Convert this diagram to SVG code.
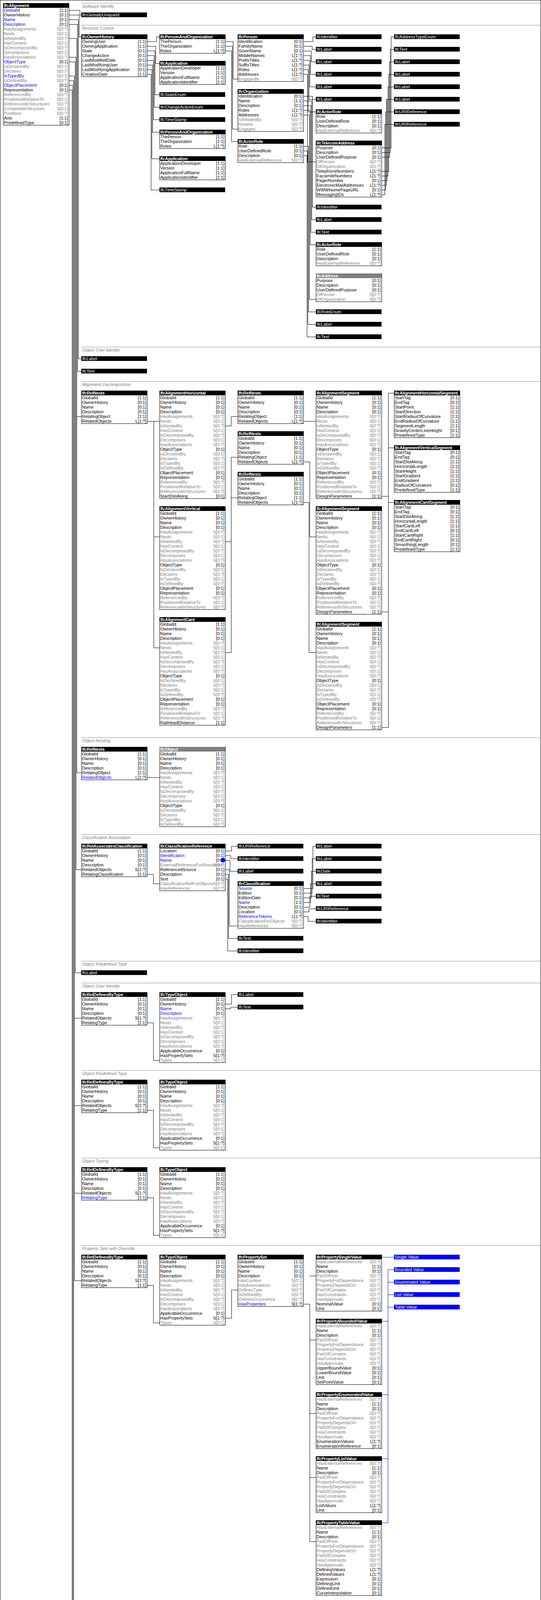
<svg xmlns="http://www.w3.org/2000/svg" width="1384" height="7496" viewBox="0 0 1384 7496">
<style>
text{font-family:"Liberation Sans",Arial,sans-serif;font-size:11px;fill:#000}
.c{text-anchor:end}
.g{fill:#808080}
.b{fill:#0000ff}
.h{fill:#fff;font-weight:bold;letter-spacing:-0.2px}
.w{fill:#fff}
.st{fill:#808080;font-style:italic}
.bx{fill:#fff;stroke:#000;stroke-width:1}
.hd{fill:#000}
.ha{fill:#808080}
.tb{fill:#000}
.vb{fill:#0000ff}
.sl{stroke:#909090;stroke-width:1}
.fr{fill:none;stroke:#000;stroke-width:1}
#conn path{fill:none;stroke:#000;stroke-width:1}
#conn path.bl{stroke:#0000ff}
rect,line,path{shape-rendering:crispEdges}
</style>
<defs>
<clipPath id="cp"><rect width="167" height="12"/></clipPath>
<g id="rRoot"><text><tspan x="2" y="22">GlobalId</tspan><tspan x="2" y="34">OwnerHistory</tspan><tspan x="2" y="46">Name</tspan><tspan x="2" y="58">Description</tspan></text><text class="c"><tspan x="166" y="22">[1:1]</tspan><tspan x="166" y="34">[0:1]</tspan><tspan x="166" y="46">[0:1]</tspan><tspan x="166" y="58">[0:1]</tspan></text></g>
<g id="rRootN"><text><tspan x="2" y="22">GlobalId</tspan><tspan x="2" y="34">OwnerHistory</tspan><tspan class="b" x="2" y="46">Name</tspan><tspan x="2" y="58">Description</tspan></text><text class="c"><tspan x="166" y="22">[1:1]</tspan><tspan x="166" y="34">[0:1]</tspan><tspan x="166" y="46">[0:1]</tspan><tspan x="166" y="58">[0:1]</tspan></text></g>
<g id="rA1"><text class="g"><tspan x="2" y="22">HasAssignments</tspan><tspan x="2" y="34">Nests</tspan><tspan x="2" y="46">IsNestedBy</tspan><tspan x="2" y="58">HasContext</tspan><tspan x="2" y="70">IsDecomposedBy</tspan><tspan x="2" y="82">Decomposes</tspan><tspan x="2" y="94">HasAssociations</tspan></text><text class="g c"><tspan x="166" y="22">S[0:?]</tspan><tspan x="166" y="34">S[0:1]</tspan><tspan x="166" y="46">S[0:?]</tspan><tspan x="166" y="58">S[0:1]</tspan><tspan x="166" y="70">S[0:?]</tspan><tspan x="166" y="82">S[0:1]</tspan><tspan x="166" y="94">S[0:?]</tspan></text></g>
<g id="rA2"><text><tspan x="2" y="22">ObjectType</tspan><tspan class="g" x="2" y="34">IsDeclaredBy</tspan><tspan class="g" x="2" y="46">Declares</tspan><tspan class="g" x="2" y="58">IsTypedBy</tspan><tspan class="g" x="2" y="70">IsDefinedBy</tspan></text><text class="c"><tspan x="166" y="22">[0:1]</tspan><tspan class="g" x="166" y="34">S[0:1]</tspan><tspan class="g" x="166" y="46">S[0:?]</tspan><tspan class="g" x="166" y="58">S[0:1]</tspan><tspan class="g" x="166" y="70">S[0:?]</tspan></text></g>
<g id="rB"><text><tspan x="2" y="22">ObjectPlacement</tspan><tspan x="2" y="34">Representation</tspan><tspan class="g" x="2" y="46">ReferencedBy</tspan><tspan class="g" x="2" y="58">PositionedRelativeTo</tspan><tspan class="g" x="2" y="70">ReferencedInStructures</tspan></text><text class="c"><tspan x="166" y="22">[0:1]</tspan><tspan x="166" y="34">[0:1]</tspan><tspan class="g" x="166" y="46">S[0:?]</tspan><tspan class="g" x="166" y="58">S[0:1]</tspan><tspan class="g" x="166" y="70">S[0:?]</tspan></text></g>
<g id="rProp"><text><tspan class="g" x="2" y="22">HasExternalReferences</tspan><tspan x="2" y="34">Name</tspan><tspan x="2" y="46">Description</tspan><tspan class="g" x="2" y="58">PartOfPset</tspan><tspan class="g" x="2" y="70">PropertyForDependance</tspan><tspan class="g" x="2" y="82">PropertyDependsOn</tspan><tspan class="g" x="2" y="94">PartOfComplex</tspan><tspan class="g" x="2" y="106">HasConstraints</tspan><tspan class="g" x="2" y="118">HasApprovals</tspan></text><text class="c"><tspan class="g" x="166" y="22">S[0:?]</tspan><tspan x="166" y="34">[1:1]</tspan><tspan x="166" y="46">[0:1]</tspan><tspan class="g" x="166" y="58">S[0:?]</tspan><tspan class="g" x="166" y="70">S[0:?]</tspan><tspan class="g" x="166" y="82">S[0:?]</tspan><tspan class="g" x="166" y="94">S[0:?]</tspan><tspan class="g" x="166" y="106">S[0:?]</tspan><tspan class="g" x="166" y="118">S[0:?]</tspan></text></g>
<g id="rRI"><text class="g"><tspan x="2" y="22">LayerAssignment</tspan><tspan x="2" y="34">StyledByItem</tspan></text><text class="g c"><tspan x="166" y="22">S[0:1]</tspan><tspan x="166" y="34">S[0:1]</tspan></text></g>
<g id="bPAO"><rect class="bx" width="168" height="48"/><rect class="hd" width="168" height="12"/><text class="h" x="2" y="10">IfcPersonAndOrganization</text><text><tspan x="2" y="22">ThePerson</tspan><tspan x="2" y="34">TheOrganization</tspan><tspan x="2" y="46">Roles</tspan></text><text class="c"><tspan x="166" y="22">[1:1]</tspan><tspan x="166" y="34">[1:1]</tspan><tspan x="166" y="46">L[1:?]</tspan></text></g>
<g id="bApp"><rect class="bx" width="168" height="60"/><rect class="hd" width="168" height="12"/><text class="h" x="2" y="10">IfcApplication</text><text><tspan x="2" y="22">ApplicationDeveloper</tspan><tspan x="2" y="34">Version</tspan><tspan x="2" y="46">ApplicationFullName</tspan><tspan x="2" y="58">ApplicationIdentifier</tspan></text><text class="c"><tspan x="166" y="22">[1:1]</tspan><tspan x="166" y="34">[1:1]</tspan><tspan x="166" y="46">[1:1]</tspan><tspan x="166" y="58">[1:1]</tspan></text></g>
<g id="bAR"><rect class="bx" width="168" height="60"/><rect class="hd" width="168" height="12"/><text class="h" x="2" y="10">IfcActorRole</text><text><tspan x="2" y="22">Role</tspan><tspan x="2" y="34">UserDefinedRole</tspan><tspan x="2" y="46">Description</tspan><tspan class="g" x="2" y="58">HasExternalReference</tspan></text><text class="c"><tspan x="166" y="22">[1:1]</tspan><tspan x="166" y="34">[0:1]</tspan><tspan x="166" y="46">[0:1]</tspan><tspan class="g" x="166" y="58">S[0:?]</tspan></text></g>
<g id="bRelNests"><rect class="bx" width="168" height="84"/><rect class="hd" width="168" height="12"/><text class="h" x="2" y="10">IfcRelNests</text><use href="#rRoot"/><text><tspan x="2" y="70">RelatingObject</tspan><tspan x="2" y="82">RelatedObjects</tspan></text><text class="c"><tspan x="166" y="70">[1:1]</tspan><tspan x="166" y="82">L[1:?]</tspan></text></g>
<g id="bSeg"><rect class="bx" width="168" height="276"/><rect class="hd" width="168" height="12"/><text class="h" x="2" y="10">IfcAlignmentSegment</text><use href="#rRoot"/><use href="#rA1" y="48"/><use href="#rA2" y="132"/><use href="#rB" y="192"/><text x="2" y="274">DesignParameters</text><text class="c" x="166" y="274">[1:1]</text></g>
<g id="bRDT"><rect class="bx" width="168" height="84"/><rect class="hd" width="168" height="12"/><text class="h" x="2" y="10">IfcRelDefinesByType</text><use href="#rRoot"/><text><tspan x="2" y="70">RelatedObjects</tspan><tspan x="2" y="82">RelatingType</tspan></text><text class="c"><tspan x="166" y="70">S[1:?]</tspan><tspan x="166" y="82">[1:1]</tspan></text></g>
<g id="rTOtail"><text><tspan x="2" y="154">ApplicableOccurrence</tspan><tspan x="2" y="166">HasPropertySets</tspan><tspan class="g" x="2" y="178">Types</tspan></text><text class="c"><tspan x="166" y="154">[0:1]</tspan><tspan x="166" y="166">S[1:?]</tspan><tspan class="g" x="166" y="178">S[0:1]</tspan></text></g>
<g id="bTO"><rect class="bx" width="168" height="180"/><rect class="hd" width="168" height="12"/><text class="h" x="2" y="10">IfcTypeObject</text><use href="#rRoot"/><use href="#rA1" y="48"/><use href="#rTOtail"/></g>
<g id="bPSet"><rect class="bx" width="168" height="132"/><rect class="hd" width="168" height="12"/><text class="h" x="2" y="10">IfcPropertySet</text><use href="#rRoot"/><text><tspan class="g" x="2" y="70">HasContext</tspan><tspan class="g" x="2" y="82">HasAssociations</tspan><tspan class="g" x="2" y="94">DefinesType</tspan><tspan class="g" x="2" y="106">IsDefinedBy</tspan><tspan class="g" x="2" y="118">DefinesOccurrence</tspan><tspan class="b" x="2" y="130">HasProperties</tspan></text><text class="c"><tspan class="g" x="166" y="70">S[0:1]</tspan><tspan class="g" x="166" y="82">S[0:?]</tspan><tspan class="g" x="166" y="94">S[0:?]</tspan><tspan class="g" x="166" y="106">S[0:?]</tspan><tspan class="g" x="166" y="118">S[0:?]</tspan><tspan x="166" y="130">S[1:?]</tspan></text></g>
<g id="bPSV"><rect class="bx" width="168" height="144"/><rect class="hd" width="168" height="12"/><text class="h" x="2" y="10">IfcPropertySingleValue</text><use href="#rProp"/><text><tspan x="2" y="130">NominalValue</tspan><tspan x="2" y="142">Unit</tspan></text><text class="c"><tspan x="166" y="130">[0:1]</tspan><tspan x="166" y="142">[0:1]</tspan></text></g>
<g id="bPBV"><rect class="bx" width="168" height="168"/><rect class="hd" width="168" height="12"/><text class="h" x="2" y="10">IfcPropertyBoundedValue</text><use href="#rProp"/><text><tspan x="2" y="130">UpperBoundValue</tspan><tspan x="2" y="142">LowerBoundValue</tspan><tspan x="2" y="154">Unit</tspan><tspan x="2" y="166">SetPointValue</tspan></text><text class="c"><tspan x="166" y="130">[0:1]</tspan><tspan x="166" y="142">[0:1]</tspan><tspan x="166" y="154">[0:1]</tspan><tspan x="166" y="166">[0:1]</tspan></text></g>
<g id="bPEV"><rect class="bx" width="168" height="144"/><rect class="hd" width="168" height="12"/><text class="h" x="2" y="10">IfcPropertyEnumeratedValue</text><use href="#rProp"/><text><tspan x="2" y="130">EnumerationValues</tspan><tspan x="2" y="142">EnumerationReference</tspan></text><text class="c"><tspan x="166" y="130">L[1:?]</tspan><tspan x="166" y="142">[0:1]</tspan></text></g>
<g id="bPLV"><rect class="bx" width="168" height="144"/><rect class="hd" width="168" height="12"/><text class="h" x="2" y="10">IfcPropertyListValue</text><use href="#rProp"/><text><tspan x="2" y="130">ListValues</tspan><tspan x="2" y="142">Unit</tspan></text><text class="c"><tspan x="166" y="130">L[1:?]</tspan><tspan x="166" y="142">[0:1]</tspan></text></g>
<g id="bPTV"><rect class="bx" width="168" height="192"/><rect class="hd" width="168" height="12"/><text class="h" x="2" y="10">IfcPropertyTableValue</text><use href="#rProp"/><text><tspan x="2" y="130">DefiningValues</tspan><tspan x="2" y="142">DefinedValues</tspan><tspan x="2" y="154">Expression</tspan><tspan x="2" y="166">DefiningUnit</tspan><tspan x="2" y="178">DefinedUnit</tspan><tspan x="2" y="190">CurveInterpolation</tspan></text><text class="c"><tspan x="166" y="130">L[1:?]</tspan><tspan x="166" y="142">L[1:?]</tspan><tspan x="166" y="154">[0:1]</tspan><tspan x="166" y="166">[0:1]</tspan><tspan x="166" y="178">[0:1]</tspan><tspan x="166" y="190">[0:1]</tspan></text></g>
<g id="bRDP"><rect class="bx" width="168" height="84"/><rect class="hd" width="168" height="12"/><text class="h" x="2" y="10">IfcRelDefinesByProperties</text><use href="#rRoot"/><text><tspan x="2" y="70">RelatedObjects</tspan><tspan x="2" y="82">RelatingPropertyDefinition</tspan></text><text class="c"><tspan x="166" y="70">S[1:?]</tspan><tspan x="166" y="82">[1:1]</tspan></text></g>
<g id="bPDS"><rect class="bx" width="168" height="72"/><rect class="hd" width="168" height="12"/><text class="h" x="2" y="10">IfcProductDefinitionShape</text><text><tspan x="2" y="22">Name</tspan><tspan x="2" y="34">Description</tspan><tspan x="2" y="46">Representations</tspan><tspan class="g" x="2" y="58">ShapeOfProduct</tspan><tspan class="g" x="2" y="70">HasShapeAspects</tspan></text><text class="c"><tspan x="166" y="22">[0:1]</tspan><tspan x="166" y="34">[0:1]</tspan><tspan x="166" y="46">L[1:?]</tspan><tspan class="g" x="166" y="58">S[1:?]</tspan><tspan class="g" x="166" y="70">S[0:?]</tspan></text></g>
<g id="bSR"><rect class="bx" width="168" height="108"/><rect class="hd" width="168" height="12"/><text class="h" x="2" y="10">IfcShapeRepresentation</text><text><tspan x="2" y="22">ContextOfItems</tspan><tspan class="b" x="2" y="34">RepresentationIdentifier</tspan><tspan class="b" x="2" y="46">RepresentationType</tspan><tspan x="2" y="58">Items</tspan><tspan class="g" x="2" y="70">RepresentationMap</tspan><tspan class="g" x="2" y="82">LayerAssignments</tspan><tspan class="g" x="2" y="94">OfProductRepresentation</tspan><tspan class="g" x="2" y="106">OfShapeAspect</tspan></text><text class="c"><tspan x="166" y="22">[1:1]</tspan><tspan x="166" y="34">[0:1]</tspan><tspan x="166" y="46">[0:1]</tspan><tspan x="166" y="58">S[1:?]</tspan><tspan class="g" x="166" y="70">S[0:1]</tspan><tspan class="g" x="166" y="82">S[0:?]</tspan><tspan class="g" x="166" y="94">S[0:?]</tspan><tspan class="g" x="166" y="106">S[0:1]</tspan></text></g>
<g id="bGRC"><rect class="bx" width="168" height="120"/><rect class="hd" width="168" height="12"/><text class="h" x="2" y="10" clip-path="url(#cp)">IfcGeometricRepresentationContext</text><text><tspan x="2" y="22">ContextIdentifier</tspan><tspan x="2" y="34">ContextType</tspan><tspan class="g" x="2" y="46">RepresentationsInContext</tspan><tspan x="2" y="58">CoordinateSpaceDimension</tspan><tspan x="2" y="70">Precision</tspan><tspan x="2" y="82">WorldCoordinateSystem</tspan><tspan x="2" y="94">TrueNorth</tspan><tspan class="g" x="2" y="106">HasSubContexts</tspan><tspan class="g" x="2" y="118">HasCoordinateOperation</tspan></text><text class="c"><tspan x="166" y="22">[0:1]</tspan><tspan x="166" y="34">[0:1]</tspan><tspan class="g" x="166" y="46">S[0:?]</tspan><tspan x="166" y="58">[1:1]</tspan><tspan x="166" y="70">[0:1]</tspan><tspan x="166" y="82">[1:1]</tspan><tspan x="166" y="94">[0:1]</tspan><tspan class="g" x="166" y="106">S[0:?]</tspan><tspan class="g" x="166" y="118">S[0:1]</tspan></text></g>
<g id="bCS"><rect class="bx" width="168" height="108"/><rect class="hd" width="168" height="12"/><text class="h" x="2" y="10">IfcCurveSegment</text><use href="#rRI"/><text><tspan x="2" y="46">Transition</tspan><tspan class="g" x="2" y="58">UsingCurves</tspan><tspan x="2" y="70">Placement</tspan><tspan x="2" y="82">SegmentStart</tspan><tspan x="2" y="94">SegmentLength</tspan><tspan x="2" y="106">ParentCurve</tspan></text><text class="c"><tspan x="166" y="46">[1:1]</tspan><tspan class="g" x="166" y="58">S[1:?]</tspan><tspan x="166" y="70">[1:1]</tspan><tspan x="166" y="82">[1:1]</tspan><tspan x="166" y="94">[1:1]</tspan><tspan x="166" y="106">[1:1]</tspan></text></g>
<g id="blueSet"><rect class="vb" width="168" height="12"/><text class="w" x="2" y="10">Single Value</text><rect class="vb" y="32" width="168" height="12"/><text class="w" x="2" y="42">Bounded Value</text><rect class="vb" y="64" width="168" height="12"/><text class="w" x="2" y="74">Enumerated Value</text><rect class="vb" y="96" width="168" height="12"/><text class="w" x="2" y="106">List Value</text><rect class="vb" y="128" width="168" height="12"/><text class="w" x="2" y="138">Table Value</text></g>
</defs>

<rect class="fr" x="0.5" y="0.5" width="1383" height="7495"/>

<g id="sections">
<line class="sl" x1="208" y1="8" x2="1384" y2="8"/><text class="st" x="210" y="20">Software Identity</text>
<line class="sl" x1="208" y1="64" x2="1384" y2="64"/><text class="st" x="210" y="76">Revision Control</text>
<line class="sl" x1="208" y1="888" x2="1384" y2="888"/><text class="st" x="210" y="900">Object User Identity</text>
<line class="sl" x1="208" y1="976" x2="1384" y2="976"/><text class="st" x="210" y="988">Alignment Decomposition</text>
<line class="sl" x1="208" y1="1888" x2="1384" y2="1888"/><text class="st" x="210" y="1900">Object Nesting</text>
<line class="sl" x1="208" y1="2136" x2="1384" y2="2136"/><text class="st" x="210" y="2148">Classification Association</text>
<line class="sl" x1="208" y1="2460" x2="1384" y2="2460"/><text class="st" x="210" y="2472">Object Predefined Type</text>
<line class="sl" x1="208" y1="2516" x2="1384" y2="2516"/><text class="st" x="210" y="2528">Object User Identity</text>
<line class="sl" x1="208" y1="2740" x2="1384" y2="2740"/><text class="st" x="210" y="2752">Object Predefined Type</text>
<line class="sl" x1="208" y1="2964" x2="1384" y2="2964"/><text class="st" x="210" y="2976">Object Typing</text>
<line class="sl" x1="208" y1="3188" x2="1384" y2="3188"/><text class="st" x="210" y="3200">Property Sets with Override</text>
<line class="sl" x1="208" y1="4104" x2="1384" y2="4104"/><text class="st" x="210" y="4116">Property Sets for Objects</text>
<line class="sl" x1="208" y1="5020" x2="1384" y2="5020"/><text class="st" x="210" y="5032">Property Sets with Override</text>
<line class="sl" x1="208" y1="5936" x2="1384" y2="5936"/><text class="st" x="210" y="5948">Product Local Placement</text>
<line class="sl" x1="208" y1="6720" x2="1384" y2="6720"/><text class="st" x="210" y="6732">Alignment Geometry Gradient</text>
<line class="sl" x1="208" y1="7052" x2="1384" y2="7052"/><text class="st" x="210" y="7064">FootPrint Geometry</text>
<line class="sl" x1="208" y1="7280" x2="1384" y2="7280"/><text class="st" x="210" y="7292">Product Geometric Representation</text>
</g>

<g id="conn">
<path d="M176 26H204V38H208"/>
<path d="M176 38H202V94H208"/>
<path d="M176 50H200V918H208"/>
<path d="M176 62H198V950H208"/>
<path d="M176 98H196V1978H208M196 1066H208"/>
<path d="M176 146H194V2226H208"/>
<path d="M176 158H192V2490H208"/>
<path d="M176 194H190V3278H208M190 2606H208M190 2830H208M190 3054H208"/>
<path d="M176 206H188V5110H208M188 4194H208"/>
<path d="M176 218H186V5978H208"/>
<path d="M176 230H184V7358H208M184 6798H208M184 7130H208"/>
<path d="M376 106H400V94H408"/>
<path d="M376 118H398V162H408"/>
<path d="M376 130H396V242H408"/>
<path d="M376 142H394V274H408"/>
<path d="M376 154H392V306H408"/>
<path d="M376 166H390V338H408"/>
<path d="M376 178H388V406H408"/>
<path d="M376 190H386V486H408"/>
<path d="M576 106H596V202H608"/>
<path d="M576 118H594V330H608"/>
<path d="M576 130H592V362H608"/>
<path d="M776 106H800V94H808"/>
<path d="M776 118H798V126H808"/>
<path d="M776 130H796V158H808"/>
<path d="M776 142H794V190H808"/>
<path d="M776 154H792V222H808"/>
<path d="M776 166H790V254H808"/>
<path d="M776 178H788V286H808"/>
<path d="M776 190H786V414H808"/>
<path d="M776 246H799V530H808"/>
<path d="M776 258H797V562H808"/>
<path d="M776 270H795V594H808"/>
<path d="M776 282H793V626H808"/>
<path d="M776 294H791V766H808"/>
<path d="M776 374H789V798H808"/>
<path d="M776 386H787V830H808"/>
<path d="M776 398H785V862H808"/>
<path d="M976 378H1000V94H1008"/>
<path d="M976 390H998V126H1008"/>
<path d="M976 402H996V158H1008"/>
<path d="M976 438H994V190H1008"/>
<path d="M976 450H992V222H1008"/>
<path d="M976 462H990V254H1008"/>
<path d="M976 474H988V254H1008"/>
<path d="M976 486H986V286H1008"/>
<path d="M976 498H984V318H1008"/>
<path d="M376 1078H408M393 1078V1658H408M393 1374H408"/>
<path d="M576 1090H591V1066H608"/>
<path d="M576 1386H591V1170H608"/>
<path d="M576 1670H591V1274H608"/>
<path d="M776 1078H808"/>
<path d="M776 1182H792V1374H808"/>
<path d="M776 1286H790V1670H808"/>
<path d="M976 1270H993V1006H1008"/>
<path d="M976 1566H993V1146H1008"/>
<path d="M976 1862H993V1286H1008"/>
<path d="M376 1990H408"/>
<path d="M376 2238H392V2262H408"/>
<path d="M576 2178H592V2166H608"/>
<path d="M576 2190H590V2198H608"/>
<path d="M576 2202H588V2230H608"/>
<path d="M576 2226H586V2370H608"/>
<path d="M576 2238H584V2402H608"/>
<path d="M576 2250H582V2434H608"/>
<path d="M776 2274H800V2166H808"/>
<path d="M776 2286H798V2198H808"/>
<path d="M776 2298H796V2230H808"/>
<path d="M776 2310H794V2262H808"/>
<path d="M776 2322H792V2294H808"/>
<path d="M776 2334H790V2326H808"/>
<path d="M776 2346H788V2358H808"/>
<path d="M376 2618H392V2714H408"/>
<path d="M576 2570H592V2546H608"/>
<path d="M576 2582H590V2578H608"/>
<path d="M376 2842H392V2938H408"/>
<path d="M376 3066H392V3162H408"/>
<path d="M376 3290H392V3386H408"/>
<path d="M576 3374H592V3302H608"/>
<path d="M776 3338H792V3946H808M792 3266H808M792 3430H808M792 3618H808M792 3782H808"/>
<path class="bl" d="M976 3218H1008"/>
<path class="bl" d="M976 3382H992V3250H1008"/>
<path class="bl" d="M976 3570H992V3282H1008"/>
<path class="bl" d="M976 3734H992V3314H1008"/>
<path class="bl" d="M976 3898H992V3346H1008"/>
<path d="M376 4206H392V4242H408"/>
<path d="M576 4254H592V4862H608M592 4182H608M592 4346H608M592 4534H608M592 4698H608"/>
<path class="bl" d="M776 4134H808"/>
<path class="bl" d="M776 4298H792V4166H808"/>
<path class="bl" d="M776 4486H792V4198H808"/>
<path class="bl" d="M776 4650H792V4230H808"/>
<path class="bl" d="M776 4814H792V4262H808"/>
<path d="M376 5122H392V5158H408"/>
<path d="M576 5170H592V5778H608M592 5098H608M592 5262H608M592 5450H608M592 5614H608"/>
<path class="bl" d="M776 5050H808"/>
<path class="bl" d="M776 5214H792V5082H808"/>
<path class="bl" d="M776 5402H792V5114H808"/>
<path class="bl" d="M776 5566H792V5146H808"/>
<path class="bl" d="M776 5730H792V5178H808"/>
<path d="M376 5990H392V5966H408"/>
<path d="M376 6002H390V6034H408"/>
<path d="M576 5978H592V6598H608M592 6170H608"/>
<path d="M776 6002H792V5966H808"/>
<path d="M776 6430H794V5998H808"/>
<path d="M376 6786H392V6834H408"/>
<path d="M576 6762H592V6786H608"/>
<path d="M576 6774H590V6890H608"/>
<path d="M576 6786H588V6922H608"/>
<path d="M576 6798H586V6954H608"/>
<path d="M776 6990H792V6798H808"/>
<path d="M776 7014H794V6878H808"/>
<path class="bl" d="M976 6750H1008M992 6750V6846H1008M992 6782H1008M992 6814H1008"/>
<path d="M976 6914H992V6926H1008"/>
<path class="bl" d="M1176 6878H1208M1192 6750V6974H1208M1192 6750H1208M1192 6782H1208M1192 6814H1208M1192 6846H1208M1192 6910H1208M1192 6942H1208"/>
<path d="M376 7118H392V7166H408"/>
<path d="M576 7094H592V7118H608"/>
<path d="M576 7106H590V7222H608"/>
<path d="M576 7118H588V7254H608"/>
<path d="M376 7346H392V7394H408"/>
<path d="M576 7322H592V7346H608"/>
<path d="M576 7334H590V7450H608"/>
<path d="M576 7346H588V7482H608"/>
</g>

<g id="nodes">
<g id="IfcAlignment" transform="translate(8,8)"><rect class="bx" width="168" height="312"/><rect class="hd" width="168" height="12"/><text class="h" x="2" y="10">IfcAlignment</text>
<text><tspan class="b" x="2" y="22">GlobalId</tspan><tspan x="2" y="34">OwnerHistory</tspan><tspan class="b" x="2" y="46">Name</tspan><tspan class="b" x="2" y="58">Description</tspan><tspan class="b" x="2" y="154">ObjectType</tspan><tspan class="g" x="2" y="166">IsDeclaredBy</tspan><tspan class="g" x="2" y="178">Declares</tspan><tspan class="b" x="2" y="190">IsTypedBy</tspan><tspan class="g" x="2" y="202">IsDefinedBy</tspan><tspan class="b" x="2" y="214">ObjectPlacement</tspan><tspan x="2" y="226">Representation</tspan><tspan class="g" x="2" y="238">ReferencedBy</tspan><tspan class="g" x="2" y="250">PositionedRelativeTo</tspan><tspan class="g" x="2" y="262">ReferencedInStructures</tspan><tspan class="g" x="2" y="274">ContainedInStructure</tspan><tspan class="g" x="2" y="286">Positions</tspan><tspan x="2" y="298">Axis</tspan><tspan x="2" y="310">PredefinedType</tspan></text>
<text class="c"><tspan x="166" y="22">[1:1]</tspan><tspan x="166" y="34">[0:1]</tspan><tspan x="166" y="46">[0:1]</tspan><tspan x="166" y="58">[0:1]</tspan><tspan x="166" y="154">[0:1]</tspan><tspan class="g" x="166" y="166">S[0:1]</tspan><tspan class="g" x="166" y="178">S[0:?]</tspan><tspan class="g" x="166" y="190">S[0:1]</tspan><tspan class="g" x="166" y="202">S[0:?]</tspan><tspan x="166" y="214">[0:1]</tspan><tspan x="166" y="226">[0:1]</tspan><tspan class="g" x="166" y="238">S[0:?]</tspan><tspan class="g" x="166" y="250">S[0:1]</tspan><tspan class="g" x="166" y="262">S[0:?]</tspan><tspan class="g" x="166" y="274">S[0:1]</tspan><tspan class="g" x="166" y="286">S[0:?]</tspan><tspan x="166" y="298">[1:1]</tspan><tspan x="166" y="310">[0:1]</tspan></text>
<use href="#rA1" y="48"/></g>

<g id="t_guid" transform="translate(208,32)"><rect class="tb" width="168" height="12"/><text class="w" x="2" y="10">IfcGloballyUniqueId</text></g>

<g id="IfcOwnerHistory" transform="translate(208,88)"><rect class="bx" width="168" height="108"/><rect class="hd" width="168" height="12"/><text class="h" x="2" y="10">IfcOwnerHistory</text><text><tspan x="2" y="22">OwningUser</tspan><tspan x="2" y="34">OwningApplication</tspan><tspan x="2" y="46">State</tspan><tspan x="2" y="58">ChangeAction</tspan><tspan x="2" y="70">LastModifiedDate</tspan><tspan x="2" y="82">LastModifyingUser</tspan><tspan x="2" y="94">LastModifyingApplication</tspan><tspan x="2" y="106">CreationDate</tspan></text><text class="c"><tspan x="166" y="22">[1:1]</tspan><tspan x="166" y="34">[1:1]</tspan><tspan x="166" y="46">[0:1]</tspan><tspan x="166" y="58">[0:1]</tspan><tspan x="166" y="70">[0:1]</tspan><tspan x="166" y="82">[0:1]</tspan><tspan x="166" y="94">[0:1]</tspan><tspan x="166" y="106">[1:1]</tspan></text></g>
<g id="pao1" transform="translate(408,88)"><use href="#bPAO"/></g>
<g id="app1" transform="translate(408,156)"><use href="#bApp"/></g>
<g id="t_state" transform="translate(408,236)"><rect class="tb" width="168" height="12"/><text class="w" x="2" y="10">IfcStateEnum</text></g>
<g id="t_change" transform="translate(408,268)"><rect class="tb" width="168" height="12"/><text class="w" x="2" y="10">IfcChangeActionEnum</text></g>
<g id="t_ts1" transform="translate(408,300)"><rect class="tb" width="168" height="12"/><text class="w" x="2" y="10">IfcTimeStamp</text></g>
<g id="pao2" transform="translate(408,332)"><use href="#bPAO"/></g>
<g id="app2" transform="translate(408,400)"><use href="#bApp"/></g>
<g id="t_ts2" transform="translate(408,480)"><rect class="tb" width="168" height="12"/><text class="w" x="2" y="10">IfcTimeStamp</text></g>

<g id="IfcPerson" transform="translate(608,88)"><rect class="bx" width="168" height="120"/><rect class="hd" width="168" height="12"/><text class="h" x="2" y="10">IfcPerson</text><text><tspan x="2" y="22">Identification</tspan><tspan x="2" y="34">FamilyName</tspan><tspan x="2" y="46">GivenName</tspan><tspan x="2" y="58">MiddleNames</tspan><tspan x="2" y="70">PrefixTitles</tspan><tspan x="2" y="82">SuffixTitles</tspan><tspan x="2" y="94">Roles</tspan><tspan x="2" y="106">Addresses</tspan><tspan class="g" x="2" y="118">EngagedIn</tspan></text><text class="c"><tspan x="166" y="22">[0:1]</tspan><tspan x="166" y="34">[0:1]</tspan><tspan x="166" y="46">[0:1]</tspan><tspan x="166" y="58">L[1:?]</tspan><tspan x="166" y="70">L[1:?]</tspan><tspan x="166" y="82">L[1:?]</tspan><tspan x="166" y="94">L[1:?]</tspan><tspan x="166" y="106">L[1:?]</tspan><tspan class="g" x="166" y="118">S[0:?]</tspan></text></g>
<g id="IfcOrganization" transform="translate(608,228)"><rect class="bx" width="168" height="108"/><rect class="hd" width="168" height="12"/><text class="h" x="2" y="10">IfcOrganization</text><text><tspan x="2" y="22">Identification</tspan><tspan x="2" y="34">Name</tspan><tspan x="2" y="46">Description</tspan><tspan x="2" y="58">Roles</tspan><tspan x="2" y="70">Addresses</tspan><tspan class="g" x="2" y="82">IsRelatedBy</tspan><tspan class="g" x="2" y="94">Relates</tspan><tspan class="g" x="2" y="106">Engages</tspan></text><text class="c"><tspan x="166" y="22">[0:1]</tspan><tspan x="166" y="34">[1:1]</tspan><tspan x="166" y="46">[0:1]</tspan><tspan x="166" y="58">L[1:?]</tspan><tspan x="166" y="70">L[1:?]</tspan><tspan class="g" x="166" y="82">S[0:?]</tspan><tspan class="g" x="166" y="94">S[0:?]</tspan><tspan class="g" x="166" y="106">S[0:?]</tspan></text></g>
<g id="ar1" transform="translate(608,356)"><use href="#bAR"/></g>

<g id="t_p1" transform="translate(808,88)"><rect class="tb" width="168" height="12"/><text class="w" x="2" y="10">IfcIdentifier</text></g>
<g id="t_p2" transform="translate(808,120)"><rect class="tb" width="168" height="12"/><text class="w" x="2" y="10">IfcLabel</text></g>
<g id="t_p3" transform="translate(808,152)"><rect class="tb" width="168" height="12"/><text class="w" x="2" y="10">IfcLabel</text></g>
<g id="t_p4" transform="translate(808,184)"><rect class="tb" width="168" height="12"/><text class="w" x="2" y="10">IfcLabel</text></g>
<g id="t_p5" transform="translate(808,216)"><rect class="tb" width="168" height="12"/><text class="w" x="2" y="10">IfcLabel</text></g>
<g id="t_p6" transform="translate(808,248)"><rect class="tb" width="168" height="12"/><text class="w" x="2" y="10">IfcLabel</text></g>
<g id="ar2" transform="translate(808,280)"><use href="#bAR"/></g>
<g id="IfcTelecomAddress" transform="translate(808,360)"><rect class="bx" width="168" height="144"/><rect class="hd" width="168" height="12"/><text class="h" x="2" y="10">IfcTelecomAddress</text><text><tspan x="2" y="22">Purpose</tspan><tspan x="2" y="34">Description</tspan><tspan x="2" y="46">UserDefinedPurpose</tspan><tspan class="g" x="2" y="58">OfPerson</tspan><tspan class="g" x="2" y="70">OfOrganization</tspan><tspan x="2" y="82">TelephoneNumbers</tspan><tspan x="2" y="94">FacsimileNumbers</tspan><tspan x="2" y="106">PagerNumber</tspan><tspan x="2" y="118">ElectronicMailAddresses</tspan><tspan x="2" y="130">WWWHomePageURL</tspan><tspan x="2" y="142">MessagingIDs</tspan></text><text class="c"><tspan x="166" y="22">[0:1]</tspan><tspan x="166" y="34">[0:1]</tspan><tspan x="166" y="46">[0:1]</tspan><tspan class="g" x="166" y="58">S[0:?]</tspan><tspan class="g" x="166" y="70">S[0:?]</tspan><tspan x="166" y="82">L[1:?]</tspan><tspan x="166" y="94">L[1:?]</tspan><tspan x="166" y="106">[0:1]</tspan><tspan x="166" y="118">L[1:?]</tspan><tspan x="166" y="130">[0:1]</tspan><tspan x="166" y="142">L[1:?]</tspan></text></g>
<g id="t_o1" transform="translate(808,524)"><rect class="tb" width="168" height="12"/><text class="w" x="2" y="10">IfcIdentifier</text></g>
<g id="t_o2" transform="translate(808,556)"><rect class="tb" width="168" height="12"/><text class="w" x="2" y="10">IfcLabel</text></g>
<g id="t_o3" transform="translate(808,588)"><rect class="tb" width="168" height="12"/><text class="w" x="2" y="10">IfcText</text></g>
<g id="ar3" transform="translate(808,620)"><use href="#bAR"/></g>
<g id="IfcAddress" transform="translate(808,700)"><rect class="bx" width="168" height="72"/><rect class="ha" width="168" height="12"/><text class="h" x="2" y="10">IfcAddress</text><text><tspan x="2" y="22">Purpose</tspan><tspan x="2" y="34">Description</tspan><tspan x="2" y="46">UserDefinedPurpose</tspan><tspan class="g" x="2" y="58">OfPerson</tspan><tspan class="g" x="2" y="70">OfOrganization</tspan></text><text class="c"><tspan x="166" y="22">[0:1]</tspan><tspan x="166" y="34">[0:1]</tspan><tspan x="166" y="46">[0:1]</tspan><tspan class="g" x="166" y="58">S[0:?]</tspan><tspan class="g" x="166" y="70">S[0:?]</tspan></text></g>
<g id="t_r1" transform="translate(808,792)"><rect class="tb" width="168" height="12"/><text class="w" x="2" y="10">IfcRoleEnum</text></g>
<g id="t_r2" transform="translate(808,824)"><rect class="tb" width="168" height="12"/><text class="w" x="2" y="10">IfcLabel</text></g>
<g id="t_r3" transform="translate(808,856)"><rect class="tb" width="168" height="12"/><text class="w" x="2" y="10">IfcText</text></g>

<g id="t_a1" transform="translate(1008,88)"><rect class="tb" width="168" height="12"/><text class="w" x="2" y="10">IfcAddressTypeEnum</text></g>
<g id="t_a2" transform="translate(1008,120)"><rect class="tb" width="168" height="12"/><text class="w" x="2" y="10">IfcText</text></g>
<g id="t_a3" transform="translate(1008,152)"><rect class="tb" width="168" height="12"/><text class="w" x="2" y="10">IfcLabel</text></g>
<g id="t_a4" transform="translate(1008,184)"><rect class="tb" width="168" height="12"/><text class="w" x="2" y="10">IfcLabel</text></g>
<g id="t_a5" transform="translate(1008,216)"><rect class="tb" width="168" height="12"/><text class="w" x="2" y="10">IfcLabel</text></g>
<g id="t_a6" transform="translate(1008,248)"><rect class="tb" width="168" height="12"/><text class="w" x="2" y="10">IfcLabel</text></g>
<g id="t_a7" transform="translate(1008,280)"><rect class="tb" width="168" height="12"/><text class="w" x="2" y="10">IfcURIReference</text></g>
<g id="t_a8" transform="translate(1008,312)"><rect class="tb" width="168" height="12"/><text class="w" x="2" y="10">IfcURIReference</text></g>

<g id="t_name" transform="translate(208,912)"><rect class="tb" width="168" height="12"/><text class="w" x="2" y="10">IfcLabel</text></g>
<g id="t_desc" transform="translate(208,944)"><rect class="tb" width="168" height="12"/><text class="w" x="2" y="10">IfcText</text></g>

<g id="rn1" transform="translate(208,1000)"><use href="#bRelNests"/></g>
<g id="IfcAlignmentHorizontal" transform="translate(408,1000)"><rect class="bx" width="168" height="276"/><rect class="hd" width="168" height="12"/><text class="h" x="2" y="10">IfcAlignmentHorizontal</text><use href="#rRoot"/><use href="#rA1" y="48"/><use href="#rA2" y="132"/><use href="#rB" y="192"/><text x="2" y="274">StartDistAlong</text><text class="c" x="166" y="274">[0:1]</text></g>
<g id="IfcAlignmentVertical" transform="translate(408,1296)"><rect class="bx" width="168" height="264"/><rect class="hd" width="168" height="12"/><text class="h" x="2" y="10">IfcAlignmentVertical</text><use href="#rRoot"/><use href="#rA1" y="48"/><use href="#rA2" y="132"/><use href="#rB" y="192"/></g>
<g id="IfcAlignmentCant" transform="translate(408,1580)"><rect class="bx" width="168" height="276"/><rect class="hd" width="168" height="12"/><text class="h" x="2" y="10">IfcAlignmentCant</text><use href="#rRoot"/><use href="#rA1" y="48"/><use href="#rA2" y="132"/><use href="#rB" y="192"/><text x="2" y="274">RailHeadDistance</text><text class="c" x="166" y="274">[1:1]</text></g>
<g id="rn2" transform="translate(608,1000)"><use href="#bRelNests"/></g>
<g id="rn3" transform="translate(608,1104)"><use href="#bRelNests"/></g>
<g id="rn4" transform="translate(608,1208)"><use href="#bRelNests"/></g>
<g id="seg1" transform="translate(808,1000)"><use href="#bSeg"/></g>
<g id="seg2" transform="translate(808,1296)"><use href="#bSeg"/></g>
<g id="seg3" transform="translate(808,1592)"><use href="#bSeg"/></g>
<g id="IfcAlignmentHorizontalSegment" transform="translate(1008,1000)"><rect class="bx" width="168" height="120"/><rect class="hd" width="168" height="12"/><text class="h" x="2" y="10">IfcAlignmentHorizontalSegment</text><text><tspan x="2" y="22">StartTag</tspan><tspan x="2" y="34">EndTag</tspan><tspan x="2" y="46">StartPoint</tspan><tspan x="2" y="58">StartDirection</tspan><tspan x="2" y="70">StartRadiusOfCurvature</tspan><tspan x="2" y="82">EndRadiusOfCurvature</tspan><tspan x="2" y="94">SegmentLength</tspan><tspan x="2" y="106">GravityCenterLineHeight</tspan><tspan x="2" y="118">PredefinedType</tspan></text><text class="c"><tspan x="166" y="22">[0:1]</tspan><tspan x="166" y="34">[0:1]</tspan><tspan x="166" y="46">[1:1]</tspan><tspan x="166" y="58">[1:1]</tspan><tspan x="166" y="70">[1:1]</tspan><tspan x="166" y="82">[1:1]</tspan><tspan x="166" y="94">[1:1]</tspan><tspan x="166" y="106">[0:1]</tspan><tspan x="166" y="118">[1:1]</tspan></text></g>
<g id="IfcAlignmentVerticalSegment" transform="translate(1008,1140)"><rect class="bx" width="168" height="120"/><rect class="hd" width="168" height="12"/><text class="h" x="2" y="10">IfcAlignmentVerticalSegment</text><text><tspan x="2" y="22">StartTag</tspan><tspan x="2" y="34">EndTag</tspan><tspan x="2" y="46">StartDistAlong</tspan><tspan x="2" y="58">HorizontalLength</tspan><tspan x="2" y="70">StartHeight</tspan><tspan x="2" y="82">StartGradient</tspan><tspan x="2" y="94">EndGradient</tspan><tspan x="2" y="106">RadiusOfCurvature</tspan><tspan x="2" y="118">PredefinedType</tspan></text><text class="c"><tspan x="166" y="22">[0:1]</tspan><tspan x="166" y="34">[0:1]</tspan><tspan x="166" y="46">[1:1]</tspan><tspan x="166" y="58">[1:1]</tspan><tspan x="166" y="70">[1:1]</tspan><tspan x="166" y="82">[1:1]</tspan><tspan x="166" y="94">[1:1]</tspan><tspan x="166" y="106">[0:1]</tspan><tspan x="166" y="118">[1:1]</tspan></text></g>
<g id="IfcAlignmentCantSegment" transform="translate(1008,1280)"><rect class="bx" width="168" height="132"/><rect class="hd" width="168" height="12"/><text class="h" x="2" y="10">IfcAlignmentCantSegment</text><text><tspan x="2" y="22">StartTag</tspan><tspan x="2" y="34">EndTag</tspan><tspan x="2" y="46">StartDistAlong</tspan><tspan x="2" y="58">HorizontalLength</tspan><tspan x="2" y="70">StartCantLeft</tspan><tspan x="2" y="82">EndCantLeft</tspan><tspan x="2" y="94">StartCantRight</tspan><tspan x="2" y="106">EndCantRight</tspan><tspan x="2" y="118">SmoothingLength</tspan><tspan x="2" y="130">PredefinedType</tspan></text><text class="c"><tspan x="166" y="22">[0:1]</tspan><tspan x="166" y="34">[0:1]</tspan><tspan x="166" y="46">[1:1]</tspan><tspan x="166" y="58">[1:1]</tspan><tspan x="166" y="70">[1:1]</tspan><tspan x="166" y="82">[0:1]</tspan><tspan x="166" y="94">[1:1]</tspan><tspan x="166" y="106">[0:1]</tspan><tspan x="166" y="118">[0:1]</tspan><tspan x="166" y="130">[1:1]</tspan></text></g>

<g id="rn5" transform="translate(208,1912)"><rect class="bx" width="168" height="84"/><rect class="hd" width="168" height="12"/><text class="h" x="2" y="10">IfcRelNests</text><use href="#rRoot"/><text><tspan x="2" y="70">RelatingObject</tspan><tspan class="b" x="2" y="82">RelatedObjects</tspan></text><text class="c"><tspan x="166" y="70">[1:1]</tspan><tspan x="166" y="82">L[1:?]</tspan></text></g>
<g id="IfcObject" transform="translate(408,1912)"><rect class="bx" width="168" height="204"/><rect class="ha" width="168" height="12"/><text class="h" x="2" y="10">IfcObject</text><use href="#rRoot"/><use href="#rA1" y="48"/><use href="#rA2" y="132"/></g>

<g id="IfcRelAssociatesClassification" transform="translate(208,2160)"><rect class="bx" width="168" height="84"/><rect class="hd" width="168" height="12"/><text class="h" x="2" y="10">IfcRelAssociatesClassification</text><use href="#rRoot"/><text><tspan x="2" y="70">RelatedObjects</tspan><tspan x="2" y="82">RelatingClassification</tspan></text><text class="c"><tspan x="166" y="70">S[1:?]</tspan><tspan x="166" y="82">[1:1]</tspan></text></g>
<g id="IfcClassificationReference" transform="translate(408,2160)"><rect class="bx" width="168" height="120"/><rect class="hd" width="168" height="12"/><text class="h" x="2" y="10">IfcClassificationReference</text><text><tspan x="2" y="22">Location</tspan><tspan class="b" x="2" y="34">Identification</tspan><tspan class="b" x="2" y="46">Name</tspan><tspan class="g" x="2" y="58">ExternalReferenceForResources</tspan><tspan x="2" y="70">ReferencedSource</tspan><tspan x="2" y="82">Description</tspan><tspan x="2" y="94">Sort</tspan><tspan class="g" x="2" y="106">ClassificationRefForObjects</tspan><tspan class="g" x="2" y="118">HasReferences</tspan></text><text class="c"><tspan x="166" y="22">[0:1]</tspan><tspan x="166" y="34">[0:1]</tspan><tspan x="166" y="46">[0:1]</tspan><tspan class="g" x="166" y="58">S[0:?]</tspan><tspan x="166" y="70">[0:1]</tspan><tspan x="166" y="82">[0:1]</tspan><tspan x="166" y="94">[0:1]</tspan><tspan class="g" x="166" y="106">S[0:?]</tspan><tspan class="g" x="166" y="118">S[0:?]</tspan></text><circle cx="162" cy="42" r="6" fill="#0000ff"/></g>
<g id="t_c1" transform="translate(608,2160)"><rect class="tb" width="168" height="12"/><text class="w" x="2" y="10">IfcURIReference</text></g>
<g id="t_c2" transform="translate(608,2192)"><rect class="tb" width="168" height="12"/><text class="w" x="2" y="10">IfcIdentifier</text></g>
<g id="t_c3" transform="translate(608,2224)"><rect class="tb" width="168" height="12"/><text class="w" x="2" y="10">IfcLabel</text></g>
<g id="IfcClassification" transform="translate(608,2256)"><rect class="bx" width="168" height="120"/><rect class="hd" width="168" height="12"/><text class="h" x="2" y="10">IfcClassification</text><text><tspan class="b" x="2" y="22">Source</tspan><tspan x="2" y="34">Edition</tspan><tspan x="2" y="46">EditionDate</tspan><tspan class="b" x="2" y="58">Name</tspan><tspan x="2" y="70">Description</tspan><tspan x="2" y="82">Location</tspan><tspan class="b" x="2" y="94">ReferenceTokens</tspan><tspan class="g" x="2" y="106">ClassificationForObjects</tspan><tspan class="g" x="2" y="118">HasReferences</tspan></text><text class="c"><tspan x="166" y="22">[0:1]</tspan><tspan x="166" y="34">[0:1]</tspan><tspan x="166" y="46">[0:1]</tspan><tspan x="166" y="58">[1:1]</tspan><tspan x="166" y="70">[0:1]</tspan><tspan x="166" y="82">[0:1]</tspan><tspan x="166" y="94">L[1:?]</tspan><tspan class="g" x="166" y="106">S[0:?]</tspan><tspan class="g" x="166" y="118">S[0:?]</tspan></text></g>
<g id="t_c4" transform="translate(608,2396)"><rect class="tb" width="168" height="12"/><text class="w" x="2" y="10">IfcText</text></g>
<g id="t_c5" transform="translate(608,2428)"><rect class="tb" width="168" height="12"/><text class="w" x="2" y="10">IfcIdentifier</text></g>
<g id="t_d1" transform="translate(808,2160)"><rect class="tb" width="168" height="12"/><text class="w" x="2" y="10">IfcLabel</text></g>
<g id="t_d2" transform="translate(808,2192)"><rect class="tb" width="168" height="12"/><text class="w" x="2" y="10">IfcLabel</text></g>
<g id="t_d3" transform="translate(808,2224)"><rect class="tb" width="168" height="12"/><text class="w" x="2" y="10">IfcDate</text></g>
<g id="t_d4" transform="translate(808,2256)"><rect class="tb" width="168" height="12"/><text class="w" x="2" y="10">IfcLabel</text></g>
<g id="t_d5" transform="translate(808,2288)"><rect class="tb" width="168" height="12"/><text class="w" x="2" y="10">IfcText</text></g>
<g id="t_d6" transform="translate(808,2320)"><rect class="tb" width="168" height="12"/><text class="w" x="2" y="10">IfcURIReference</text></g>
<g id="t_d7" transform="translate(808,2352)"><rect class="tb" width="168" height="12"/><text class="w" x="2" y="10">IfcIdentifier</text></g>

<g id="t_otype" transform="translate(208,2484)"><rect class="tb" width="168" height="12"/><text class="w" x="2" y="10">IfcLabel</text></g>

<g id="rdt1" transform="translate(208,2540)"><use href="#bRDT"/></g>
<g id="to1" transform="translate(408,2540)"><rect class="bx" width="168" height="180"/><rect class="hd" width="168" height="12"/><text class="h" x="2" y="10">IfcTypeObject</text><text><tspan x="2" y="22">GlobalId</tspan><tspan x="2" y="34">OwnerHistory</tspan><tspan class="b" x="2" y="46">Name</tspan><tspan class="b" x="2" y="58">Description</tspan></text><text class="c"><tspan x="166" y="22">[1:1]</tspan><tspan x="166" y="34">[0:1]</tspan><tspan x="166" y="46">[0:1]</tspan><tspan x="166" y="58">[0:1]</tspan></text><use href="#rA1" y="48"/><use href="#rTOtail"/></g>
<g id="t_tn" transform="translate(608,2540)"><rect class="tb" width="168" height="12"/><text class="w" x="2" y="10">IfcLabel</text></g>
<g id="t_td" transform="translate(608,2572)"><rect class="tb" width="168" height="12"/><text class="w" x="2" y="10">IfcText</text></g>

<g id="rdt2" transform="translate(208,2764)"><use href="#bRDT"/></g>
<g id="to2" transform="translate(408,2764)"><use href="#bTO"/></g>

<g id="rdt3" transform="translate(208,2988)"><rect class="bx" width="168" height="84"/><rect class="hd" width="168" height="12"/><text class="h" x="2" y="10">IfcRelDefinesByType</text><use href="#rRoot"/><text><tspan x="2" y="70">RelatedObjects</tspan><tspan class="b" x="2" y="82">RelatingType</tspan></text><text class="c"><tspan x="166" y="70">S[1:?]</tspan><tspan x="166" y="82">[1:1]</tspan></text></g>
<g id="to3" transform="translate(408,2988)"><use href="#bTO"/></g>

<g id="rdt4" transform="translate(208,3212)"><use href="#bRDT"/></g>
<g id="to4" transform="translate(408,3212)"><use href="#bTO"/></g>
<g id="pset1" transform="translate(608,3212)"><use href="#bPSet"/></g>
<g id="psv1" transform="translate(808,3212)"><use href="#bPSV"/></g>
<g id="pbv1" transform="translate(808,3376)"><use href="#bPBV"/></g>
<g id="pev1" transform="translate(808,3564)"><use href="#bPEV"/></g>
<g id="plv1" transform="translate(808,3728)"><use href="#bPLV"/></g>
<g id="ptv1" transform="translate(808,3892)"><use href="#bPTV"/></g>
<g id="vals1" transform="translate(1008,3212)"><use href="#blueSet"/></g>

<g id="rdp1" transform="translate(208,4128)"><use href="#bRDP"/></g>
<g id="pset2" transform="translate(408,4128)"><use href="#bPSet"/></g>
<g id="psv2" transform="translate(608,4128)"><use href="#bPSV"/></g>
<g id="pbv2" transform="translate(608,4292)"><use href="#bPBV"/></g>
<g id="pev2" transform="translate(608,4480)"><use href="#bPEV"/></g>
<g id="plv2" transform="translate(608,4644)"><use href="#bPLV"/></g>
<g id="ptv2" transform="translate(608,4808)"><use href="#bPTV"/></g>
<g id="vals2" transform="translate(808,4128)"><use href="#blueSet"/></g>

<g id="rdp2" transform="translate(208,5044)"><use href="#bRDP"/></g>
<g id="pset3" transform="translate(408,5044)"><use href="#bPSet"/></g>
<g id="psv3" transform="translate(608,5044)"><use href="#bPSV"/></g>
<g id="pbv3" transform="translate(608,5208)"><use href="#bPBV"/></g>
<g id="pev3" transform="translate(608,5396)"><use href="#bPEV"/></g>
<g id="plv3" transform="translate(608,5560)"><use href="#bPLV"/></g>
<g id="ptv3" transform="translate(608,5724)"><use href="#bPTV"/></g>
<g id="vals3" transform="translate(808,5044)"><use href="#blueSet"/></g>

<g id="lp1" transform="translate(208,5960)"><rect class="bx" width="168" height="48"/><rect class="hd" width="168" height="12"/><text class="h" x="2" y="10">IfcLocalPlacement</text><text><tspan class="g" x="2" y="22">PlacesObject</tspan><tspan x="2" y="34">PlacementRelTo</tspan><tspan x="2" y="46">RelativePlacement</tspan></text><text class="c"><tspan class="g" x="166" y="22">S[0:?]</tspan><tspan x="166" y="34">[0:1]</tspan><tspan x="166" y="46">[1:1]</tspan></text></g>
<g id="lp2" transform="translate(408,5960)"><rect class="bx" width="168" height="48"/><rect class="hd" width="168" height="12"/><text class="h" x="2" y="10">IfcLocalPlacement</text><text><tspan class="b" x="2" y="22">PlacesObject</tspan><tspan x="2" y="34">PlacementRelTo</tspan><tspan x="2" y="46">RelativePlacement</tspan></text><text class="c"><tspan class="g" x="166" y="22">S[0:?]</tspan><tspan x="166" y="34">[0:1]</tspan><tspan x="166" y="46">[1:1]</tspan></text></g>
<g id="IfcAxis2Placement3D" transform="translate(408,6028)"><rect class="bx" width="168" height="72"/><rect class="hd" width="168" height="12"/><text class="h" x="2" y="10">IfcAxis2Placement3D</text><use href="#rRI"/><text><tspan x="2" y="46">Location</tspan><tspan x="2" y="58">Axis</tspan><tspan x="2" y="70">RefDirection</tspan></text><text class="c"><tspan x="166" y="46">[1:1]</tspan><tspan x="166" y="58">[0:1]</tspan><tspan x="166" y="70">[0:1]</tspan></text></g>
<g id="IfcElement" transform="translate(608,5960)"><rect class="bx" width="168" height="408"/><rect class="ha" width="168" height="12"/><text class="h" x="2" y="10">IfcElement</text><use href="#rRootN"/><use href="#rA1" y="48"/><use href="#rA2" y="132"/><use href="#rB" y="192"/><text><tspan x="2" y="274">Tag</tspan><tspan class="g" x="2" y="286">FillsVoids</tspan><tspan class="g" x="2" y="298">ConnectedTo</tspan><tspan class="g" x="2" y="310">IsInterferedByElements</tspan><tspan class="g" x="2" y="322">InterferesElements</tspan><tspan class="g" x="2" y="334">HasProjections</tspan><tspan class="g" x="2" y="346">HasOpenings</tspan><tspan class="g" x="2" y="358">IsConnectionRealization</tspan><tspan class="g" x="2" y="370">ProvidesBoundaries</tspan><tspan class="g" x="2" y="382">ConnectedFrom</tspan><tspan class="g" x="2" y="394">ContainedInStructure</tspan><tspan class="g" x="2" y="406">HasCoverings</tspan></text><text class="c"><tspan x="166" y="274">[0:1]</tspan><tspan class="g" x="166" y="286">S[0:1]</tspan><tspan class="g" x="166" y="298">S[0:?]</tspan><tspan class="g" x="166" y="310">S[0:?]</tspan><tspan class="g" x="166" y="322">S[0:?]</tspan><tspan class="g" x="166" y="334">S[0:?]</tspan><tspan class="g" x="166" y="346">S[0:?]</tspan><tspan class="g" x="166" y="358">S[0:?]</tspan><tspan class="g" x="166" y="370">S[0:?]</tspan><tspan class="g" x="166" y="382">S[0:?]</tspan><tspan class="g" x="166" y="394">S[0:1]</tspan><tspan class="g" x="166" y="406">S[0:?]</tspan></text></g>
<g id="IfcSpatialElement" transform="translate(608,6388)"><rect class="bx" width="168" height="312"/><rect class="ha" width="168" height="12"/><text class="h" x="2" y="10">IfcSpatialElement</text><use href="#rRootN"/><use href="#rA1" y="48"/><use href="#rA2" y="132"/><use href="#rB" y="192"/><text><tspan x="2" y="274">LongName</tspan><tspan class="g" x="2" y="286">ContainsElements</tspan><tspan class="g" x="2" y="298">ServicedBySystems</tspan><tspan class="g" x="2" y="310">ReferencesElements</tspan></text><text class="c"><tspan x="166" y="274">[0:1]</tspan><tspan class="g" x="166" y="286">S[0:?]</tspan><tspan class="g" x="166" y="298">S[0:?]</tspan><tspan class="g" x="166" y="310">S[0:?]</tspan></text></g>
<g id="t_e1" transform="translate(808,5960)"><rect class="tb" width="168" height="12"/><text class="w" x="2" y="10">IfcLabel</text></g>
<g id="t_e2" transform="translate(808,5992)"><rect class="tb" width="168" height="12"/><text class="w" x="2" y="10">IfcLabel</text></g>

<g id="pds1" transform="translate(208,6744)"><use href="#bPDS"/></g>
<g id="sr1" transform="translate(408,6744)"><use href="#bSR"/></g>
<g id="grc1" transform="translate(608,6744)"><use href="#bGRC"/></g>
<g id="t_g1" transform="translate(608,6884)"><rect class="tb" width="168" height="12"/><text class="w" x="2" y="10">IfcLabel</text></g>
<g id="t_g2" transform="translate(608,6916)"><rect class="tb" width="168" height="12"/><text class="w" x="2" y="10">IfcLabel</text></g>
<g id="IfcGradientCurve" transform="translate(608,6948)"><rect class="bx" width="168" height="84"/><rect class="hd" width="168" height="12"/><text class="h" x="2" y="10">IfcGradientCurve</text><use href="#rRI"/><text><tspan x="2" y="46">Segments</tspan><tspan x="2" y="58">SelfIntersect</tspan><tspan x="2" y="70">BaseCurve</tspan><tspan x="2" y="82">EndPoint</tspan></text><text class="c"><tspan x="166" y="46">L[1:?]</tspan><tspan x="166" y="58">[1:1]</tspan><tspan x="166" y="70">[1:1]</tspan><tspan x="166" y="82">[0:1]</tspan></text></g>
<g id="cs1" transform="translate(808,6744)"><use href="#bCS"/></g>
<g id="IfcCompositeCurve" transform="translate(808,6872)"><rect class="bx" width="168" height="60"/><rect class="hd" width="168" height="12"/><text class="h" x="2" y="10">IfcCompositeCurve</text><use href="#rRI"/><text><tspan x="2" y="46">Segments</tspan><tspan x="2" y="58">SelfIntersect</tspan></text><text class="c"><tspan x="166" y="46">L[1:?]</tspan><tspan x="166" y="58">[1:1]</tspan></text></g>
<g id="segTypes1" transform="translate(1008,6744)"><rect class="vb" width="168" height="12"/><text class="w" x="2" y="10">Linear Segment</text><rect class="vb" y="32" width="168" height="12"/><text class="w" x="2" y="42">Arc Segment</text><rect class="vb" y="64" width="168" height="12"/><text class="w" x="2" y="74">Parabolic Transition Segment</text><rect class="vb" y="96" width="168" height="12"/><text class="w" x="2" y="106">Clothoid Transition Segment</text></g>
<g id="cs2" transform="translate(1008,6872)"><use href="#bCS"/></g>
<g id="segTypes2" transform="translate(1208,6744)"><rect class="vb" width="168" height="12"/><text class="w" x="2" y="10">Helmert Transition Segment</text><rect class="vb" y="32" width="168" height="12"/><text class="w" x="2" y="42">Bloss Transition Segment</text><rect class="vb" y="64" width="168" height="12"/><text class="w" x="2" y="74">Clothoid Transition Segment</text><rect class="vb" y="96" width="168" height="12"/><text class="w" x="2" y="106">Sine Transition Segment</text><rect class="vb" y="128" width="168" height="12"/><text class="w" x="2" y="138">Cosine Transition Segment</text><rect class="vb" y="160" width="168" height="12"/><text class="w" x="2" y="170">Arc Segment</text><rect class="vb" y="192" width="168" height="12"/><text class="w" x="2" y="202">Linear Segment</text><rect class="vb" y="224" width="168" height="12"/><text class="w" x="2" y="234">Cubic Transition Segment</text></g>

<g id="pds2" transform="translate(208,7076)"><use href="#bPDS"/></g>
<g id="sr2" transform="translate(408,7076)"><use href="#bSR"/></g>
<g id="grc2" transform="translate(608,7076)"><use href="#bGRC"/></g>
<g id="t_f1" transform="translate(608,7216)"><rect class="tb" width="168" height="12"/><text class="w" x="2" y="10">IfcLabel</text><text class="w c" x="166" y="10">FootPrint</text></g>
<g id="t_f2" transform="translate(608,7248)"><rect class="tb" width="168" height="12"/><text class="w" x="2" y="10">IfcLabel</text></g>

<g id="pds3" transform="translate(208,7304)"><use href="#bPDS"/></g>
<g id="sr3" transform="translate(408,7304)"><use href="#bSR"/></g>
<g id="grc3" transform="translate(608,7304)"><use href="#bGRC"/></g>
<g id="t_h1" transform="translate(608,7444)"><rect class="tb" width="168" height="12"/><text class="w" x="2" y="10">IfcLabel</text></g>
<g id="t_h2" transform="translate(608,7476)"><rect class="tb" width="168" height="12"/><text class="w" x="2" y="10">IfcLabel</text></g>
</g>
</svg>
